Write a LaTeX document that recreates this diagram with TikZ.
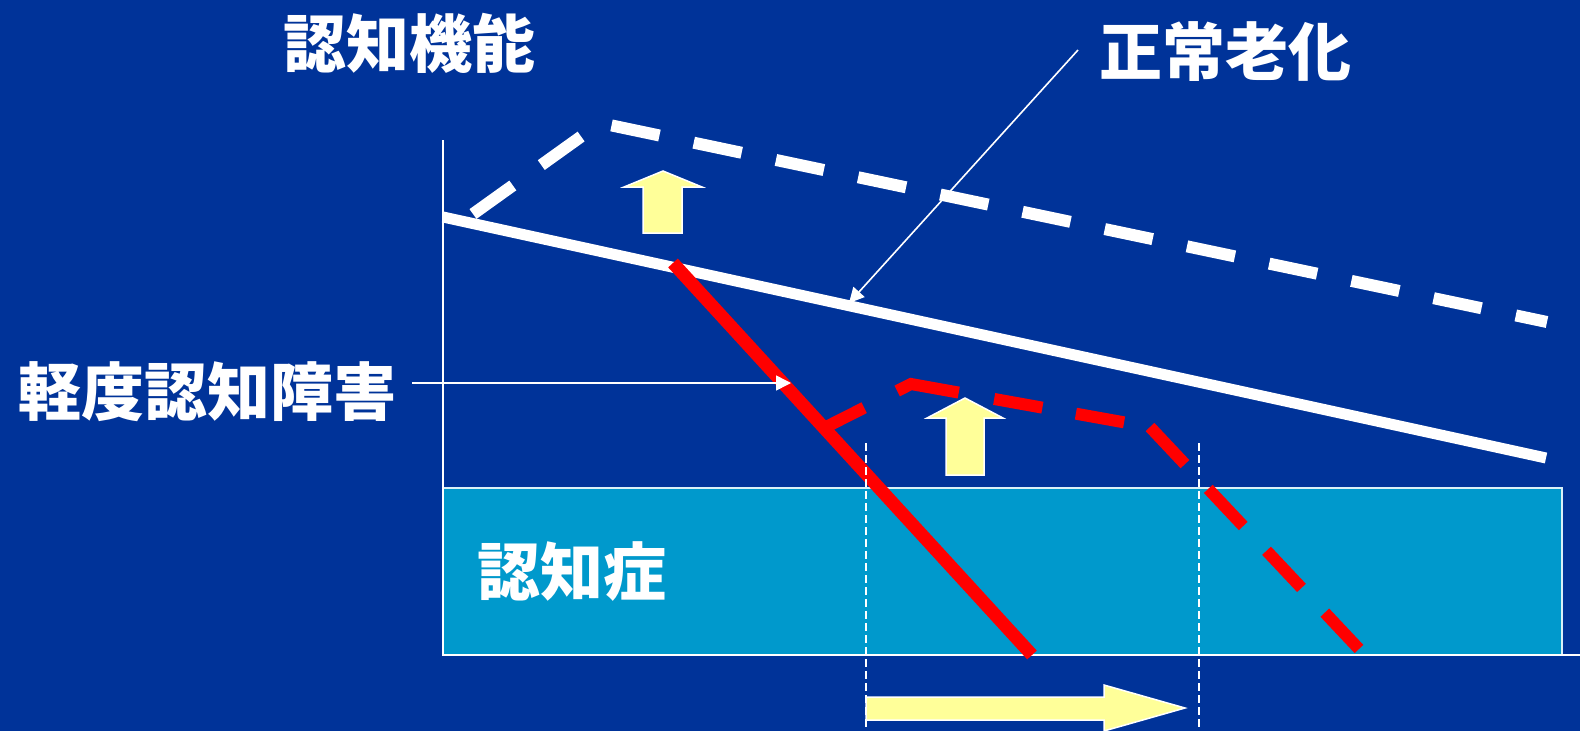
\documentclass[tikz,border=0pt]{standalone}
\usepackage{fontspec}
\newfontfamily\jp{Noto Sans CJK JP}
\usetikzlibrary{arrows.meta}
\definecolor{bgblue}{HTML}{003399}
\definecolor{boxblue}{HTML}{0099CC}
\definecolor{arrowyellow}{HTML}{FFFF99}
\definecolor{redline}{HTML}{FF0000}
\tikzset{
  lbl/.style={text=white, inner sep=0pt, font=\jp\bfseries\fontsize{63pt}{63pt}\selectfont},
  whitesolid/.style={draw=white, line width=11pt},
  whitedash/.style={draw=white, line width=12pt, dash pattern=on 49pt off 35pt},
  redsolid/.style={draw=redline, line width=13pt},
  reddash/.style={draw=redline, line width=12pt},
  yarrow/.style={fill=arrowyellow, draw=white, line width=1.5pt, line join=miter},
  pointer/.style={draw=white, line width=1.6pt, -{Triangle[length=15pt,width=15pt]}},
  guide/.style={draw=white, line width=1.5pt, dash pattern=on 8pt off 4pt},
  axisline/.style={draw=white, line width=1.8pt}
}
\begin{document}
\begin{tikzpicture}[x=1pt,y=-1pt]
\useasboundingbox (0,0) rectangle (1580,731);
\fill[bgblue] (0,0) rectangle (1580,731);
% dementia zone
\filldraw[fill=boxblue, draw=white!85!boxblue, line width=1.6pt] (443,488) rectangle (1562,655);
% axes
\draw[axisline] (443,140) -- (443,655) -- (1580,655);
% normal ageing
\draw[whitesolid] (443,217) -- (1546,458);
\draw[whitedash] (473,214) -- (600,123) -- (1547,322);
% MCI decline
\draw[redsolid] (673,263) -- (1032,655);
\coordinate (rk1) at (911,384);
\coordinate (rk2) at (1150,427);
\draw[reddash, dash pattern=on 45pt off 37pt on 64pt off 36pt on 49pt off 34pt on 49pt off 100pt] (824,428) -- (rk1) -- (rk2);
\draw[reddash, dash pattern=on 51pt off 34pt] (rk2) -- (1359,649);
% up arrows
\draw[yarrow] (663,171) -- (702,187) -- (682,187) -- (682,233) -- (643,233) -- (643,187) -- (624,187) -- cycle;
\draw[yarrow] (965,398) -- (1003,418) -- (984,418) -- (984,475) -- (946,475) -- (946,418) -- (927,418) -- cycle;
% right arrow
\draw[yarrow] (866,697) -- (1104,697) -- (1104,685) -- (1185,708) -- (1104,731) -- (1104,720) -- (866,720) -- cycle;
% guides
\draw[guide] (866,443) -- (866,731);
\draw[guide] (1199,443) -- (1199,731);
% labels
\node[lbl] (kinou) at (409,43) {認知機能};
\node[lbl] (seijo) at (1225,52) {正常老化};
\node[lbl] (mci) at (208,392) {軽度認知障害};
\node[lbl] (ninchi) at (572,572) {認知症};
% pointers
\coordinate (p1s) at (1078,50);
\coordinate (p1e) at (849,303);
\coordinate (p2s) at (412,383);
\coordinate (p2e) at (791,383);
\draw[pointer] (p1s) -- (p1e);
\draw[pointer] (p2s) -- (p2e);
\end{tikzpicture}
\end{document}
